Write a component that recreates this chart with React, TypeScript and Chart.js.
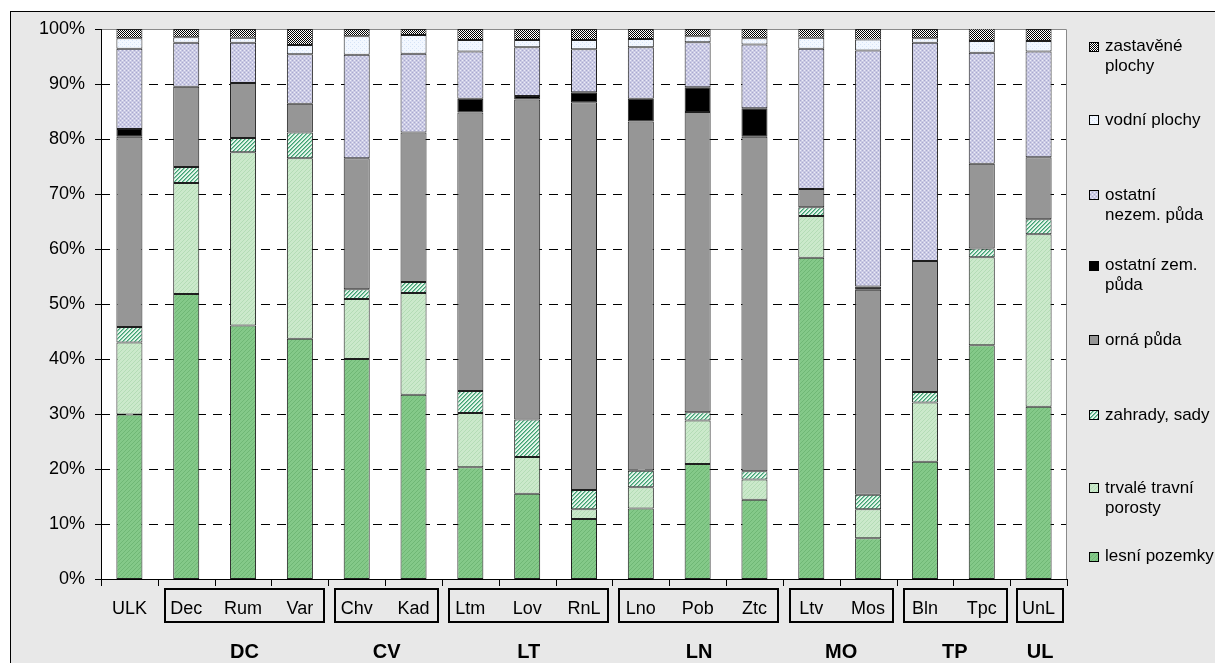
import React, { useEffect, useRef } from 'react';
import { Chart, registerables } from 'chart.js';

Chart.register(...registerables);

const categories = ['ULK', 'Dec', 'Rum', 'Var', 'Chv', 'Kad', 'Ltm', 'Lov', 'RnL', 'Lno', 'Pob', 'Ztc', 'Ltv', 'Mos', 'Bln', 'Tpc', 'UnL'];

const lesniPozemky = [29.9, 51.8, 46.1, 43.7, 40.0, 33.5, 20.3, 15.5, 10.9, 12.8, 20.9, 14.4, 58.4, 7.4, 21.3, 42.5, 31.3];
const trvaleTravniPorosty = [13.1, 20.2, 31.5, 32.8, 10.9, 18.5, 9.9, 6.7, 1.8, 3.9, 7.9, 3.7, 7.6, 5.3, 10.8, 16.0, 31.4];
const zahradySady = [2.8, 2.9, 2.6, 4.7, 1.8, 2.0, 4.0, 6.8, 3.5, 3.0, 1.5, 1.5, 1.6, 2.6, 1.9, 1.6, 2.7];
const ornaPuda = [34.6, 14.6, 10.0, 5.2, 23.8, 27.2, 50.6, 58.2, 70.5, 63.5, 54.6, 60.8, 3.3, 37.3, 23.8, 15.4, 11.3];
const ostatniZemPuda = [1.4, 0, 0, 0, 0, 0, 2.5, 0.6, 1.8, 4.1, 4.5, 5.2, 0, 0.6, 0, 0, 0];
const ostatniNezemPuda = [14.6, 8.0, 7.3, 9.0, 18.8, 14.3, 8.6, 8.9, 7.8, 9.4, 8.2, 11.6, 25.5, 42.9, 39.7, 20.2, 19.2];
const vodniPlochy = [1.9, 1.0, 0.9, 1.7, 3.4, 3.4, 2.1, 1.3, 1.7, 1.5, 1.1, 1.1, 2.0, 2.0, 0.8, 2.1, 1.9];
const zastavenePlochy = [1.7, 1.5, 1.6, 2.9, 1.3, 1.1, 2.0, 2.0, 2.0, 1.8, 1.3, 1.7, 1.6, 1.9, 1.7, 2.3, 2.2];

const seriesLabels = [
  'lesní pozemky',
  'trvalé travní\nporosty',
  'zahrady, sady',
  'orná půda',
  'ostatní zem.\npůda',
  'ostatní\nnezem. půda',
  'vodní plochy',
  'zastavěné\nplochy',
];

const yTickValues = [0, 10, 20, 30, 40, 50, 60, 70, 80, 90, 100];

const groupNames = ['DC', 'CV', 'LT', 'LN', 'MO', 'TP', 'UL'];
const groupStart = [1, 4, 6, 9, 12, 14, 16];
const groupEnd = [3, 5, 8, 11, 13, 15, 16];

// layout constants (positions / styles)
const W = 1215;
const H = 663;
const FONT = "'Liberation Sans', Arial, Helvetica, sans-serif";
const legendY = [556.7, 488.3, 415, 340, 265.7, 195, 120, 46.7]; // per series (same order as data)

function tile(w: number, h: number, draw: (g: CanvasRenderingContext2D) => void): HTMLCanvasElement {
  const c = document.createElement('canvas');
  c.width = w;
  c.height = h;
  const g = c.getContext('2d')!;
  draw(g);
  return c;
}

function makeFills(ctx: CanvasRenderingContext2D): (CanvasPattern | string)[] {
  const lesni = tile(4, 4, (g) => {
    g.fillStyle = '#84c989';
    g.fillRect(0, 0, 4, 4);
    g.fillStyle = '#6fb775';
    for (let i = 0; i < 4; i++) g.fillRect((3 - i), i, 1, 1);
  });
  const trvale = tile(4, 4, (g) => {
    g.fillStyle = '#cbe9cb';
    g.fillRect(0, 0, 4, 4);
    g.fillStyle = '#b4dcb6';
    for (let i = 0; i < 4; i++) g.fillRect((3 - i), i, 1, 1);
  });
  const zahrady = tile(4, 4, (g) => {
    g.fillStyle = '#e4f5ea';
    g.fillRect(0, 0, 4, 4);
    g.fillStyle = '#3f9f73';
    for (let i = 0; i < 4; i++) g.fillRect((3 - i), i, 1, 1);
    g.fillStyle = '#86c9a6';
    for (let i = 0; i < 4; i++) g.fillRect((4 - i) % 4, i, 1, 1);
  });
  const nezem = tile(4, 4, (g) => {
    g.fillStyle = '#cacae4';
    g.fillRect(0, 0, 4, 4);
    g.fillStyle = '#a9a9cf';
    g.fillRect(0, 0, 1, 1);
    g.fillRect(2, 2, 1, 1);
    g.fillStyle = '#ececf7';
    g.fillRect(2, 0, 1, 1);
    g.fillRect(0, 2, 1, 1);
  });
  const vodni = tile(4, 4, (g) => {
    g.fillStyle = '#f2f7ff';
    g.fillRect(0, 0, 4, 4);
    g.fillStyle = '#d6e3f6';
    g.fillRect(0, 0, 1, 1);
    g.fillRect(2, 2, 1, 1);
  });
  const zast = tile(2, 2, (g) => {
    g.fillStyle = '#ffffff';
    g.fillRect(0, 0, 2, 2);
    g.fillStyle = '#000000';
    g.fillRect(0, 0, 1, 1);
    g.fillRect(1, 1, 1, 1);
  });
  const p = (c: HTMLCanvasElement) => ctx.createPattern(c, 'repeat') as CanvasPattern;
  return [p(lesni), p(trvale), p(zahrady), '#969696', '#000000', p(nezem), p(vodni), p(zast)];
}

export default function App() {
  const ref = useRef<HTMLCanvasElement>(null);

  useEffect(() => {
    document.body.style.margin = '0';
    const canvas = ref.current!;
    const ctx = canvas.getContext('2d')!;
    const fills = makeFills(ctx);
    const seriesData = [lesniPozemky, trvaleTravniPorosty, zahradySady, ornaPuda, ostatniZemPuda, ostatniNezemPuda, vodniPlochy, zastavenePlochy];

    const decor = {
      id: 'decor',
      beforeDraw(chart: any) {
        const { ctx: c, chartArea: a } = chart;
        c.save();
        c.fillStyle = '#ffffff';
        c.fillRect(a.left, a.top, a.right - a.left, a.bottom - a.top);
        c.restore();
      },
      beforeDatasetsDraw(chart: any) {
        const { ctx: c, chartArea: a, scales } = chart;
        const y = scales.y;
        c.save();
        c.strokeStyle = '#000';
        c.lineWidth = 1;
        c.setLineDash([9, 7]);
        yTickValues.forEach((v) => {
          if (v <= 0 || v >= 100) return;
          const py = Math.round(y.getPixelForValue(v)) + 0.5;
          c.beginPath();
          c.moveTo(a.left, py);
          c.lineTo(a.right, py);
          c.stroke();
        });
        c.setLineDash([]);
        c.strokeStyle = '#8a8a8a';
        c.beginPath();
        c.moveTo(a.left, a.top + 0.5);
        c.lineTo(a.right - 0.5, a.top + 0.5);
        c.lineTo(a.right - 0.5, a.bottom);
        c.stroke();
        c.restore();
      },
      afterDatasetsDraw(chart: any) {
        const { ctx: c, chartArea: a, scales } = chart;
        const x = scales.x;
        const y = scales.y;
        c.save();
        // axes
        c.strokeStyle = '#000';
        c.lineWidth = 1;
        c.beginPath();
        c.moveTo(a.left + 0.5, a.top);
        c.lineTo(a.left + 0.5, a.bottom + 1);
        c.moveTo(a.left, a.bottom + 0.5);
        c.lineTo(a.right, a.bottom + 0.5);
        c.stroke();
        // y ticks
        c.beginPath();
        yTickValues.forEach((v) => {
          const py = Math.round(y.getPixelForValue(v)) + 0.5;
          c.moveTo(a.left - 6, py);
          c.lineTo(a.left, py);
        });
        // x ticks at category boundaries
        const half = (x.getPixelForValue(1) - x.getPixelForValue(0)) / 2;
        for (let i = 0; i <= categories.length; i++) {
          const px = Math.round(x.getPixelForValue(i) - half) + 0.5;
          c.moveTo(px, a.bottom);
          c.lineTo(px, a.bottom + 7);
        }
        c.stroke();

        // group boxes and labels
        c.lineWidth = 2;
        c.strokeStyle = '#000';
        c.fillStyle = '#000';
        c.font = `bold 20px ${FONT}`;
        c.textAlign = 'center';
        c.textBaseline = 'middle';
        groupNames.forEach((name, gi) => {
          const l = x.getPixelForValue(groupStart[gi]) - half + 7;
          const r = x.getPixelForValue(groupEnd[gi]) + half - 4;
          const top = a.bottom + 10;
          c.strokeRect(Math.round(l), top, Math.round(r - l), 33);
          c.fillText(name, (l + r) / 2, a.bottom + 73);
        });

        // legend
        c.font = `17px ${FONT}`;
        c.textAlign = 'left';
        c.textBaseline = 'middle';
        c.lineWidth = 1;
        seriesLabels.forEach((lab, i) => {
          const ly = legendY[i];
          c.fillStyle = fills[i] as any;
          c.fillRect(1090, Math.round(ly - 4), 8, 8);
          c.strokeStyle = '#000';
          c.strokeRect(1089.5, Math.round(ly - 4) - 0.5, 9, 9);
          c.fillStyle = '#000';
          lab.split('\n').forEach((line, li) => {
            c.fillText(line, 1105, ly + li * 20);
          });
        });
        c.restore();
      },
    };

    const chart = new Chart(canvas, {
      type: 'bar',
      data: {
        labels: categories,
        datasets: seriesData.map((d, i) => ({
          label: seriesLabels[i].replace('\n', ' '),
          data: d,
          backgroundColor: fills[i] as any,
          borderColor: '#1e1e1e',
          borderWidth: 1,
          borderSkipped: false,
          barPercentage: 0.458,
          categoryPercentage: 1,
        })),
      },
      options: {
        animation: false,
        responsive: false,
        devicePixelRatio: 1,
        layout: { padding: { left: 0, top: 29, right: 148, bottom: 0 } },
        plugins: {
          legend: { display: false },
          tooltip: { enabled: false },
        },
        scales: {
          x: {
            stacked: true,
            grid: { display: false, drawTicks: false },
            border: { display: false },
            ticks: {
              font: { family: FONT, size: 18 },
              color: '#000',
              padding: 19,
              maxRotation: 0,
              autoSkip: false,
            },
            afterFit: (s: any) => {
              s.height = 84;
            },
          },
          y: {
            stacked: true,
            min: 0,
            max: 100,
            grid: { display: false, drawTicks: false },
            border: { display: false },
            afterBuildTicks: (s: any) => {
              s.ticks = yTickValues.map((v) => ({ value: v }));
            },
            ticks: {
              font: { family: FONT, size: 18 },
              color: '#000',
              padding: 16,
              callback: (v: any) => v + '%',
            },
            afterFit: (s: any) => {
              s.width = 101;
            },
          },
        },
      },
      plugins: [decor],
    });
    return () => chart.destroy();
  }, []);

  return (
    <div style={{ position: 'relative', width: W, height: H, overflow: 'hidden', background: '#fff' }}>
      <div
        style={{
          position: 'absolute',
          left: 10,
          top: 11,
          width: W,
          height: H,
          background: '#e8e8e8',
          borderTop: '1px solid #000',
          borderLeft: '1px solid #000',
        }}
      />
      <canvas ref={ref} width={W} height={H} style={{ position: 'absolute', left: 0, top: 0, width: W, height: H }} />
    </div>
  );
}
